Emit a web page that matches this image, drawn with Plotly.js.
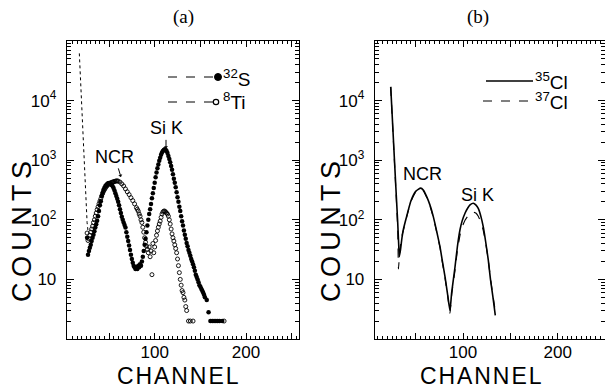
<!DOCTYPE html>
<html>
<head>
<meta charset="utf-8">
<script src="https://cdn.plot.ly/plotly-3.0.1.min.js"></script>
<style>html,body{margin:0;padding:0;background:#fff;}#chart{width:605px;height:390px;}</style>
</head>
<body>
<div id="chart"></div>
<script>
// ---------- Panel (a) data ----------
const dotCh     = [17.5, 19, 20.5, 21.9, 23.3, 24.8, 26, 27.3];
const dotCounts = [62000, 20000, 6500, 2200, 720, 165, 90, 59];

const sCh = [26,27,28,29,30,31,32,33,34,35,36,37,38,39,40,41,42,43,44,45,46,47,48,49,50,
  51,52,53,54,55,56,57,58,59,60,61,62,63,64,65,66,67,68,69,70,71,72,73,74,75,76,77,78,79,80,
  81,82,83,84,85,86,87,88,89,90,91,92,93,94,95,96,97,98,99,100,101,102,103,104,105,106,107,108,109,110,
  111,112,113,114,115,116,117,118,119,120,121,122,123,124,125,126,127,128,129,130,131,132,133,134,135,
  136,137,138,139,140,141,142,143,144,145,146,147,148,149,150,151,152,153,154,155,157,159,161,163,165,167,169,171,174];
const sCounts = [50,26,30,34,38,44,50,56,64,74,84,96,115,140,175,205,250,285,320,345,370,385,400,410,415,
  410,400,385,365,340,310,280,250,225,200,175,150,130,112,100,90,82,74,62,52,44,37,31,26,22,19,17,16,15,16,
  15,17,16,18,17,20,24,30,38,48,62,80,100,125,150,185,230,280,340,420,520,620,730,850,980,1100,1230,1350,1430,1490,
  1520,1500,1430,1320,1180,1050,920,800,690,580,490,420,350,290,240,200,165,140,115,95,80,66,56,48,41,
  36,31,28,25,22,20,18,16,14,12,11,10,9,8,7.5,7,6.5,6,5.5,5,4.5,2.8,2,2,2,2,2,2,2,2.8];

const tiCh = [26,27,28,29,30,31,32,33,34,35,36,37,38,39,40,41,42,43,44,45,46,47,48,49,50,
  51,52,53,54,55,56,57,58,59,60,62,64,66,68,70,72,74,76,78,80,81,82,83,84,85,86,87,88,89,90,
  91,92,93,94,95,96,97,98,99,100,101,102,103,104,105,106,107,108,109,110,111,112,113,114,115,116,117,118,119,120,
  121,122,123,124,125,126,127,128,129,130,131,132,133,134,135,137,139,142,176];
const tiCounts = [60,45,48,55,62,70,78,90,100,115,130,148,165,185,205,225,250,275,300,320,340,360,375,390,400,
  410,418,425,430,435,440,445,448,450,445,430,400,370,330,295,265,235,210,185,160,150,140,125,115,100,90,75,62,50,42,
  36,32,28,35,24,30,12,40,28,35,45,55,65,75,85,95,110,125,135,140,140,135,130,125,115,100,85,70,58,50,
  44,38,33,28,22,17,13,10,8,6.5,6,5,4.5,3.5,3,2,2,2,2];

// ---------- Panel (b) data ----------
const cl35Ch     = [23.6,25,27,29,31,32,32.7,34,35.5,36.9,40,45,50,55.3,58,61.6,65,68.6,72,75.7,78,81,84,86.2,88,
  91.5,94,96.8,99,102.1,105,107.4,110.9,113.5,116.1,119,121.4,124,126.7,129,131.5,134.1];
const cl35Counts = [17000,6300,1500,360,89,40,24,32,50,68,107,209,300,340,316,245,178,113,66,35,21,11,5.2,3.0,6,
  16,35,68,95,129,158,178,190,178,155,112,76,42,21,10,5.2,2.5];
const cl37Ch     = [23.6,25,27,29,31,31.8,33,35,36.9,40,45,50,55.3,58,61.6,65,68.6,72,75.7,78,81,84,86.2,88,
  91.5,94,96.8,99,102.1,105,107.4,110.9,113.5,116.1,119,121.4,124,126.7,129,131.5,134.6];
const cl37Counts = [17000,6000,1400,330,70,15,28,50,66,104,203,292,330,306,238,172,110,64,34,20,10.5,5,2.7,5.5,
  14,30,55,75,98,115,128,135,130,115,90,66,40,21,10.5,5.5,2.6];

// ---------- labels ----------
const xTickVals = [50,100,150,200,250];
const xTickText = ['', '100', '', '200', ''];
const yTickVals = [10,100,1000,10000];
const yTickText = ['10','10<sup>2</sup>','10<sup>3</sup>','10<sup>4</sup>'];
const panelTitles = ['(a)', '(b)'];
const xTitle = 'C\u200AH\u200AA\u200AN\u200AN\u200AE\u200AL';
const yTitle = 'C\u2009O\u2009U\u2009N\u2009T\u2009S';
const legendA = ['<sup>32</sup>S', '<sup>8</sup>Ti'];
const legendB = ['<sup>35</sup>Cl', '<sup>37</sup>Cl'];
const peakLabels = ['NCR', 'Si K'];

// minor tick positions on log axis
const yMinor = [];
for (let k = 0; k < 5; k++) for (let m = 2; m <= 9; m++) yMinor.push(m * Math.pow(10, k));

const W = 605, H = 390, T = 41, B = 51;
const px = v => v / W;
const py = v => (H - B - v) / (H - T - B);

const traces = [
  {x: dotCh, y: dotCounts, xaxis:'x', yaxis:'y', mode:'lines', line:{color:'#000', width:1, dash:'dot'}, hoverinfo:'skip'},
  {x: sCh, y: sCounts, xaxis:'x', yaxis:'y', mode:'markers', marker:{symbol:'circle', size:4.5, color:'#000'}},
  {x: tiCh, y: tiCounts, xaxis:'x', yaxis:'y', mode:'markers', marker:{symbol:'circle-open', size:4, color:'#000', line:{width:0.9, color:'#000'}}},
  {x: cl35Ch, y: cl35Counts, xaxis:'x2', yaxis:'y2', mode:'lines', line:{color:'#000', width:1.6, shape:'spline', smoothing:0.5}},
  {x: cl37Ch, y: cl37Counts, xaxis:'x2', yaxis:'y2', mode:'lines', line:{color:'#000', width:1.1, dash:'dash', shape:'spline', smoothing:0.5}}
];

const tickFont = {family:'Liberation Sans, Arial, sans-serif', size:17, color:'#000'};
function xAxis(domain, range, anchor) {
  return {domain, range, anchor, tickmode:'array', tickvals:xTickVals, ticktext:xTickText,
    ticks:'inside', ticklen:6, tickwidth:1, tickcolor:'#000', showline:true, linecolor:'#000', linewidth:1.3,
    mirror:'allticks', showgrid:false, zeroline:false, tickfont:tickFont, ticklabelstandoff:-3,
    minor:{tick0:0, dtick:5, ticks:'inside', ticklen:3, tickwidth:1, tickcolor:'#000', showgrid:false}};
}
function yAxis(anchor) {
  return {type:'log', range:[0,5], domain:[0,1], anchor, tickmode:'array', tickvals:yTickVals, ticktext:yTickText,
    ticks:'inside', ticklen:7, tickwidth:1, tickcolor:'#000', showline:true, linecolor:'#000', linewidth:1.3,
    mirror:'allticks', showgrid:false, zeroline:false, tickfont:tickFont, ticklabelstandoff:6,
    minor:{tickmode:'array', tickvals:yMinor, ticks:'inside', ticklen:4, tickwidth:1, tickcolor:'#000', showgrid:false}};
}

const txt = (size, fam) => ({family: fam || 'Liberation Sans, Arial, sans-serif', size, color:'#000'});
const paperText = (x, y, text, font, extra) => Object.assign({xref:'paper', yref:'paper', x:px(x), y:py(y),
  xanchor:'center', yanchor:'middle', text, showarrow:false, font}, extra || {});

const annotations = [
  paperText(183, 17, panelTitles[0], txt(19,'Liberation Serif, serif')),
  paperText(478, 17, panelTitles[1], txt(19,'Liberation Serif, serif')),
  paperText(178, 376, xTitle, txt(23)),
  paperText(481, 376, xTitle, txt(23)),
  paperText(22, 232, yTitle, txt(27), {textangle:-90}),
  paperText(331, 232, yTitle, txt(27), {textangle:-90}),
  // legend texts
  paperText(221, 78, legendA[0], txt(19), {xanchor:'left'}),
  paperText(221, 101, legendA[1], txt(19), {xanchor:'left'}),
  paperText(533, 81, legendB[0], txt(19), {xanchor:'left'}),
  paperText(533, 101, legendB[1], txt(19), {xanchor:'left'}),
  // peak labels
  {xref:'x', yref:'y', x:63, y:Math.log10(525), ax:-6, ay:-20, text:peakLabels[0], showarrow:true, arrowhead:1, arrowsize:0.7, arrowwidth:1, arrowcolor:'#000', standoff:0, font:txt(18)},
  {xref:'x', yref:'y', x:112.4, y:Math.log10(1580), ax:0, ay:-20, text:peakLabels[1], showarrow:true, arrowhead:1, arrowsize:0.7, arrowwidth:1, arrowcolor:'#000', standoff:0, font:txt(18)},
  {xref:'x2', yref:'y2', x:56.7, y:2.77, text:peakLabels[0], showarrow:false, xanchor:'center', yanchor:'middle', font:txt(18)},
  {xref:'x2', yref:'y2', x:114.8, y:2.42, text:peakLabels[1], showarrow:false, xanchor:'center', yanchor:'middle', font:txt(18)}
];

const shapes = [
  {type:'line', xref:'paper', yref:'paper', x0:px(168), x1:px(215), y0:py(77), y1:py(77), line:{color:'#000', width:1, dash:'dash'}},
  {type:'line', xref:'paper', yref:'paper', x0:px(168), x1:px(213), y0:py(102), y1:py(102), line:{color:'#000', width:1, dash:'dash'}},
  {type:'circle', xref:'paper', yref:'paper', xsizemode:'pixel', ysizemode:'pixel', xanchor:px(218), yanchor:py(77),
    x0:-3.5, x1:3.5, y0:-3.5, y1:3.5, fillcolor:'#000', line:{color:'#000', width:1}},
  {type:'circle', xref:'paper', yref:'paper', xsizemode:'pixel', ysizemode:'pixel', xanchor:px(216), yanchor:py(102),
    x0:-2.7, x1:2.7, y0:-2.7, y1:2.7, fillcolor:'#fff', line:{color:'#000', width:1.2}},
  {type:'line', xref:'paper', yref:'paper', x0:px(486), x1:px(533), y0:py(81), y1:py(81), line:{color:'#000', width:1.4}},
  {type:'line', xref:'paper', yref:'paper', x0:px(483), x1:px(534), y0:py(101), y1:py(101), line:{color:'#000', width:1, dash:'dash'}}
];

const layout = {
  width:W, height:H, margin:{l:0, r:0, t:T, b:B, pad:0}, showlegend:false,
  paper_bgcolor:'#fff', plot_bgcolor:'#fff', font:txt(17),
  xaxis: xAxis([67/W, 299/W], [4,258], 'y'),
  yaxis: yAxis('x'),
  xaxis2: xAxis([375/W, 1], [7,250], 'y2'),
  yaxis2: yAxis('x2'),
  annotations, shapes
};

Plotly.newPlot('chart', traces, layout, {staticPlot:true, displayModeBar:false});
</script>
</body>
</html>
